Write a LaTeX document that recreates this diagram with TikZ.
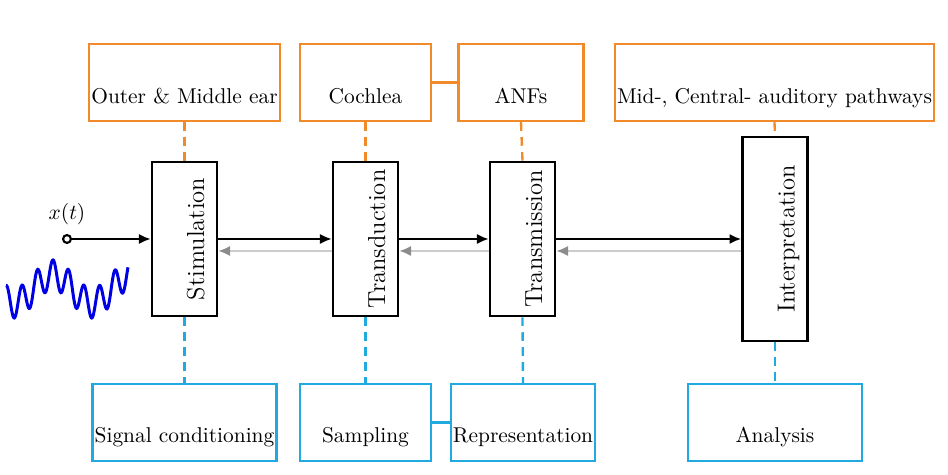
\documentclass[tikz,border=0pt]{standalone}
\usepackage{amsmath}
\usepackage{amssymb}
\usepackage{xcolor}
\usetikzlibrary{arrows.meta, positioning}

\definecolor{earorange}{RGB}{240,138,42}
\definecolor{sigblue}{RGB}{32,170,224}

\begin{document}
\begin{tikzpicture}[x=0.467pt, y=-0.467pt,
  stage/.style={draw, line width=1.1pt, rotate=90, inner ysep=0pt, text height=24.4pt, text depth=6pt, minimum height=30.4pt, font=\fontsize{11.5}{14}\selectfont},
  earbox/.style={draw=earorange, line width=1.1pt, inner ysep=0pt, inner xsep=1pt, text height=28pt, text depth=8pt},
  sigbox/.style={draw=sigblue, line width=1.1pt, inner ysep=0pt, inner xsep=1pt, text height=27.5pt, text depth=8.5pt},
  fwd/.style={line width=1.1pt, -{Latex[length=5.5pt, width=4.8pt]}},
  back/.style={line width=1.1pt, draw=gray!40, -{Latex[length=5.5pt, width=4.8pt, color=gray!90]}},
  earlink/.style={draw=earorange, line width=1.1pt, dash pattern=on 4pt off 3pt},
  siglink/.style={draw=sigblue, line width=1.1pt, dash pattern=on 4pt off 3pt}]
\useasboundingbox (0,0) rectangle (948,475);

% processing stages
\node[stage, minimum width=72pt] (stim) at (184.5,239) {Stimulation};
\node[stage, minimum width=72pt] (transd) at (365.5,239) {Transduction};
\node[stage, minimum width=72pt] (transm) at (522.5,239) {Transmission};
\node[stage, minimum width=95.3pt] (interp) at (775,239) {Interpretation};

% physiology (top)
\node[earbox, minimum width=88.7pt] (outer) at (184.5,82.5) {Outer \& Middle ear};
\node[earbox, minimum width=61.2pt] (cochlea) at (365.5,82.5) {Cochlea};
\node[earbox, minimum width=58.4pt] (anfs) at (521,82.5) {ANFs};
\node[earbox, minimum width=149pt] (central) at (774.5,82.5) {Mid-, Central- auditory pathways};

% signal processing (bottom)
\node[sigbox, minimum width=85.5pt] (sigcond) at (184.5,422.5) {Signal conditioning};
\node[sigbox, minimum width=61.2pt] (sampling) at (365.5,422.5) {Sampling};
\node[sigbox, minimum width=66.3pt] (repr) at (523,422.5) {Representation};
\node[sigbox, minimum width=81.3pt] (analysis) at (775,422.5) {Analysis};

% input
\node[circle, draw, line width=1pt, inner sep=1.3pt] (in) at (67,239) {};
\node (xlab) at (67,214) {$x(t)$};
\draw[blue!90!black, line width=1.4pt] plot[domain=6:128, samples=250, smooth]
  (\x, {289 - 14*cos((\x-53)/78*360) - 15*sin((\x-49.1)/15.5*360)});

% forward path
\draw[fwd] (in) -- (stim);
\draw[fwd] (stim) -- (transd);
\draw[fwd] (transd) -- (transm);
\draw[fwd] (transm) -- (interp);

% feedback path
\draw[back] ([yshift=-5.6pt]transd.north) -- ([yshift=-5.6pt]stim.south);
\draw[back] ([yshift=-5.6pt]transm.north) -- ([yshift=-5.6pt]transd.south);
\draw[back] ([yshift=-5.6pt]interp.north) -- ([yshift=-5.6pt]transm.south);

% links
\draw[earlink] (outer.south) -- (stim.east);
\draw[earlink] (cochlea.south) -- (transd.east);
\draw[earlink] (anfs.south) -- (transm.east);
\draw[earlink] (central.south) -- (interp.east);
\draw[siglink] (stim.west) -- (sigcond.north);
\draw[siglink] (transd.west) -- (sampling.north);
\draw[siglink] (transm.west) -- (repr.north);
\draw[siglink] (interp.west) -- (analysis.north);
\draw[draw=earorange, line width=1.1pt] (cochlea) -- (anfs);
\draw[draw=sigblue, line width=1.1pt] (sampling) -- (repr);
\end{tikzpicture}
\end{document}
